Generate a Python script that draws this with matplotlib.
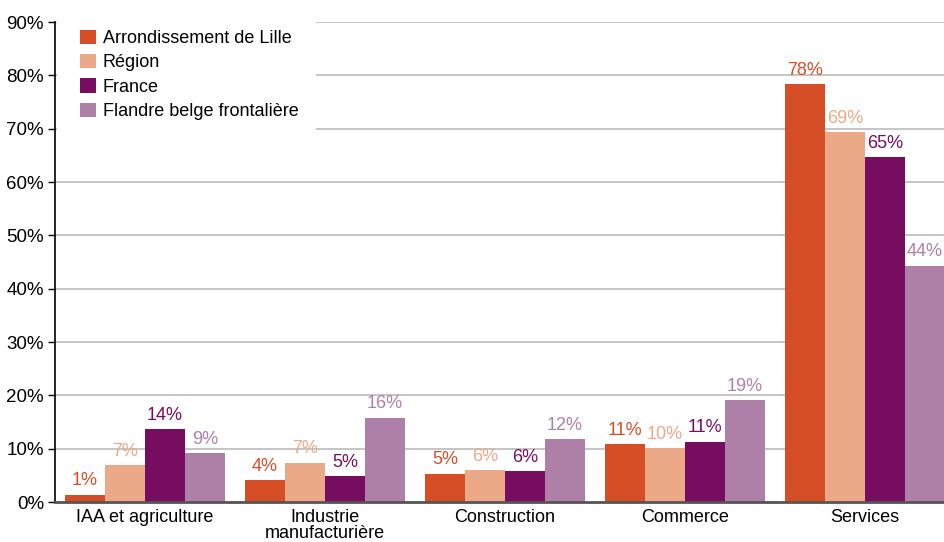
import matplotlib

matplotlib.use("Agg")
import matplotlib.pyplot as plt
from matplotlib.patches import Rectangle
import numpy as np

plt.rcParams["font.family"] = ["Liberation Sans", "DejaVu Sans"]

# ---------------------------------------------------------------------------
# Data (share of employment by sector, %)
# ---------------------------------------------------------------------------

categories = [
    "IAA et agriculture",
    "Industrie\nmanufacturière",
    "Construction",
    "Commerce",
    "Services",
]
series_names = [
    "Arrondissement de Lille",
    "Région",
    "France",
    "Flandre belge frontalière",
]
lille = [1.4, 4.1, 5.3, 10.9, 78.4]
region = [6.9, 7.4, 6.0, 10.1, 69.4]
france = [13.7, 4.9, 5.8, 11.3, 64.7]
flandre = [9.2, 15.8, 11.8, 19.1, 44.3]

colors = ["#D64E26", "#EBA987", "#760D61", "#AE80A8"]

# ---------------------------------------------------------------------------
# Plot
# ---------------------------------------------------------------------------

fig = plt.figure(figsize=(9.44, 5.42), dpi=100)
ax = fig.add_axes([0.0583, 0.0738, 0.9417, 0.8856])

x = np.arange(len(categories))
width = 0.222
all_series = [lille, region, france, flandre]

for i, (vals, name, color) in enumerate(zip(all_series, series_names, colors)):
    offset = (i - 1.5) * width
    bars = ax.bar(x + offset, vals, width=width, color=color, label=name, zorder=3)
    for b, v in zip(bars, vals):
        ax.text(
            b.get_x() + b.get_width() / 2,
            v + 1.0,
            f"{round(v):d}%",
            ha="center",
            va="bottom",
            fontsize=13,
            color=color,
        )

ax.set_xlim(-0.5, 4.44)
ax.set_ylim(0, 90)
ax.set_yticks(range(0, 91, 10))
ax.set_yticklabels([f"{t}%" for t in range(0, 91, 10)], fontsize=13.5)
ax.set_xticks(x)
ax.set_xticklabels(categories, fontsize=13, linespacing=0.9)
ax.tick_params(axis="x", length=0, pad=5)
ax.tick_params(axis="y", length=5, width=1, direction="out", pad=3)

ax.set_axisbelow(True)
ax.grid(axis="y", color="#BBBBBB", linewidth=1.2)
ax.spines[["top", "right"]].set_visible(False)
ax.spines["left"].set_color("black")
ax.spines["left"].set_linewidth(1.2)
ax.spines["bottom"].set_color("#555555")
ax.spines["bottom"].set_linewidth(2)
ax.spines["bottom"].set_zorder(4)

leg = ax.legend(
    loc="upper left",
    bbox_to_anchor=(0.01, 1.018),
    frameon=False,
    fontsize=13,
    handlelength=0.85,
    handleheight=0.85,
    handletextpad=0.4,
    labelspacing=0.38,
)

# white block behind the legend hides the gridlines there
fig.canvas.draw()
bb = leg.get_window_extent().transformed(ax.transAxes.inverted())
ax.add_patch(
    Rectangle(
        (0.002, bb.y0 - 0.01),
        bb.x1 + 0.01,
        1.05 - bb.y0,
        transform=ax.transAxes,
        facecolor="white",
        edgecolor="none",
        zorder=1,
        clip_on=False,
    )
)

plt.savefig("out.png", dpi=100)
plt.close()
